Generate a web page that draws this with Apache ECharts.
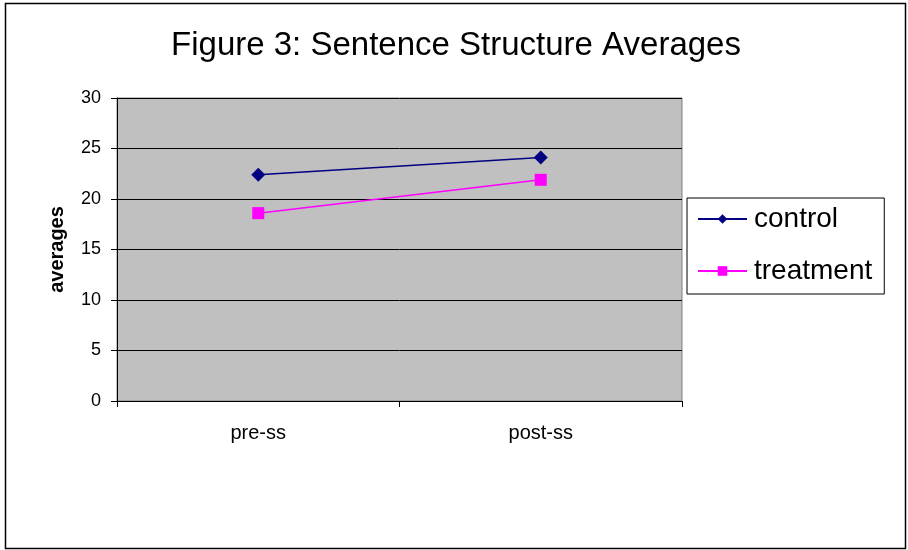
<!DOCTYPE html>
<html>
<head>
<meta charset="utf-8">
<script src="https://cdn.jsdelivr.net/npm/echarts@6/dist/echarts.min.js"></script>
<style>
  html, body { margin: 0; padding: 0; background: #fff; }
  #chart { width: 908px; height: 550px; }
</style>
</head>
<body>
<div id="chart"></div>
<script>
// Sentence structure averages, before and after
const categories = ['pre-ss', 'post-ss'];
const controlValues = [22.4, 24.1];
const treatmentValues = [18.6, 21.9];
const yTicks = [0, 5, 10, 15, 20, 25, 30];

const FONT = '"Liberation Sans", Arial, sans-serif';

const chart = echarts.init(document.getElementById('chart'), null, { renderer: 'canvas' });

chart.setOption({
  backgroundColor: '#ffffff',
  animation: false,
  title: {
    text: 'Figure 3: Sentence Structure Averages',
    left: 451,
    textAlign: 'center',
    top: 24,
    textStyle: { fontFamily: FONT, fontSize: 33, fontWeight: 'normal', color: '#000' }
  },
  graphic: [
    {
      type: 'rect',
      shape: { x: 5.5, y: 3.5, width: 900, height: 545 },
      style: { fill: null, stroke: '#000', lineWidth: 1.5 },
      silent: true
    }
  ],
  legend: {
    orient: 'vertical',
    left: 687,
    top: 198,
    padding: [7, 12, 9, 10],
    backgroundColor: '#fff',
    borderColor: '#000',
    borderWidth: 1,
    itemWidth: 49,
    itemHeight: 12,
    itemGap: 24,
    textStyle: { fontFamily: FONT, fontSize: 28, color: '#000', padding: [0, 0, 0, 2] },
    data: ['control', 'treatment']
  },
  grid: {
    left: 117,
    right: 226,
    top: 98,
    bottom: 149,
    show: true,
    backgroundColor: '#c0c0c0',
    borderColor: '#808080',
    borderWidth: 1
  },
  xAxis: {
    type: 'category',
    data: categories,
    boundaryGap: true,
    axisLine: { lineStyle: { color: '#000', width: 1 } },
    axisTick: { show: true, length: 6, lineStyle: { color: '#000' }, alignWithLabel: false },
    axisLabel: { fontFamily: FONT, fontSize: 20, color: '#000', margin: 22 }
  },
  yAxis: {
    type: 'value',
    min: yTicks[0],
    max: yTicks[yTicks.length - 1],
    interval: 5,
    name: 'averages',
    nameLocation: 'middle',
    nameGap: 50,
    nameTextStyle: { fontFamily: FONT, fontSize: 20, fontWeight: 'bold', color: '#000' },
    axisLine: { show: true, lineStyle: { color: '#000', width: 1 } },
    axisTick: { show: true, length: 6, lineStyle: { color: '#000' } },
    axisLabel: { fontFamily: FONT, fontSize: 18, color: '#000', margin: 16 },
    splitLine: { show: true, lineStyle: { color: '#000', width: 1 } }
  },
  series: [
    {
      name: 'control',
      type: 'line',
      data: controlValues,
      symbol: 'diamond',
      symbolSize: 14,
      lineStyle: { color: '#000080', width: 1.5 },
      itemStyle: { color: '#000080' }
    },
    {
      name: 'treatment',
      type: 'line',
      data: treatmentValues,
      symbol: 'rect',
      symbolSize: 12,
      lineStyle: { color: '#ff00ff', width: 1.5 },
      itemStyle: { color: '#ff00ff' }
    }
  ]
});
</script>
</body>
</html>
